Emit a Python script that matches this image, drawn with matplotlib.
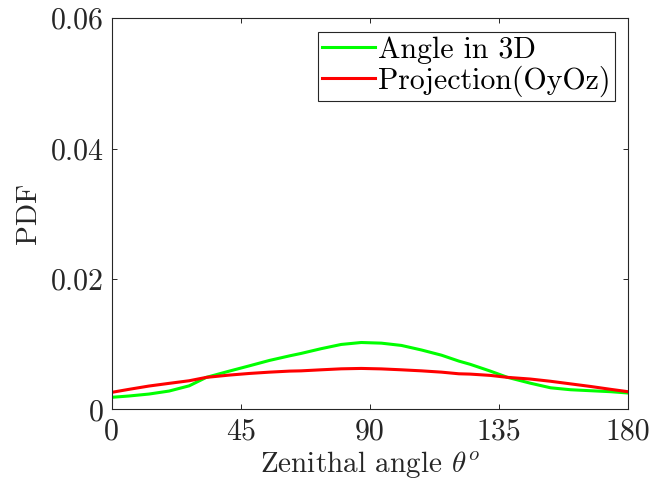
import matplotlib
matplotlib.use('Agg')
import matplotlib.pyplot as plt

plt.rcParams['font.family'] = 'serif'
plt.rcParams['font.serif'] = ['cmr10', 'DejaVu Serif']
plt.rcParams['mathtext.fontset'] = 'cm'
plt.rcParams['axes.unicode_minus'] = False

angles = [0, 6, 13, 20, 27, 33, 41, 48, 55, 62, 66, 73, 80, 87, 94, 101,
          108, 115, 121, 125, 132, 138, 146, 153, 160, 167, 174, 180]
pdf_3d = [0.00184, 0.00204, 0.00234, 0.0028, 0.0036, 0.0049, 0.00586, 0.00667,
          0.0075, 0.0082, 0.00857, 0.0093, 0.00995, 0.01025, 0.01015, 0.0098,
          0.0091, 0.0083, 0.0074, 0.0069, 0.00586, 0.0049, 0.004, 0.0033,
          0.003, 0.00285, 0.0027, 0.0025]
pdf_proj = [0.0026, 0.00306, 0.00357, 0.00398, 0.00438, 0.0049, 0.00525, 0.0055,
            0.0057, 0.00586, 0.0059, 0.00606, 0.00621, 0.00627, 0.0062, 0.00606,
            0.0059, 0.0057, 0.00545, 0.0054, 0.0052, 0.0049, 0.00464, 0.0043,
            0.0039, 0.0035, 0.00306, 0.0027]

xticks = [0, 45, 90, 135, 180]
yticks = [0, 0.02, 0.04, 0.06]
ytick_labels = ['0', '0.02', '0.04', '0.06']

fig = plt.figure(figsize=(6.51, 4.9), dpi=100)
ax = fig.add_axes([0.1716, 0.1647, 0.7931, 0.798])

ax.plot(angles, pdf_3d, color=(0, 1, 0), lw=2.2, label='Angle in 3D')
ax.plot(angles, pdf_proj, color=(1, 0, 0), lw=2.2, label='Projection(OyOz)')

ax.set_xlim(0, 180)
ax.set_ylim(0, 0.06)
ax.set_xticks(xticks, [str(t) for t in xticks])
ax.set_yticks(yticks, ytick_labels)
ax.tick_params(direction='in', top=True, right=True, length=3.5, width=0.7,
               labelsize=21.5, colors='#262626', labelcolor='#262626', pad=6)
for s in ax.spines.values():
    s.set_linewidth(0.8)
    s.set_color('#262626')

ax.set_xlabel(r'Zenithal angle $\theta^o$', fontsize=21, color='#262626', labelpad=3)
ax.set_ylabel('PDF', fontsize=21, color='#262626', labelpad=6)

leg = ax.legend(loc='upper right', fontsize=21.5, handlelength=1.75, handletextpad=0.1,
                borderpad=0.15, labelspacing=0.05, borderaxespad=0.45, fancybox=False,
                framealpha=1)
leg.get_frame().set_edgecolor('#262626')
leg.get_frame().set_linewidth(0.8)

fig.savefig('out.png', dpi=100)
